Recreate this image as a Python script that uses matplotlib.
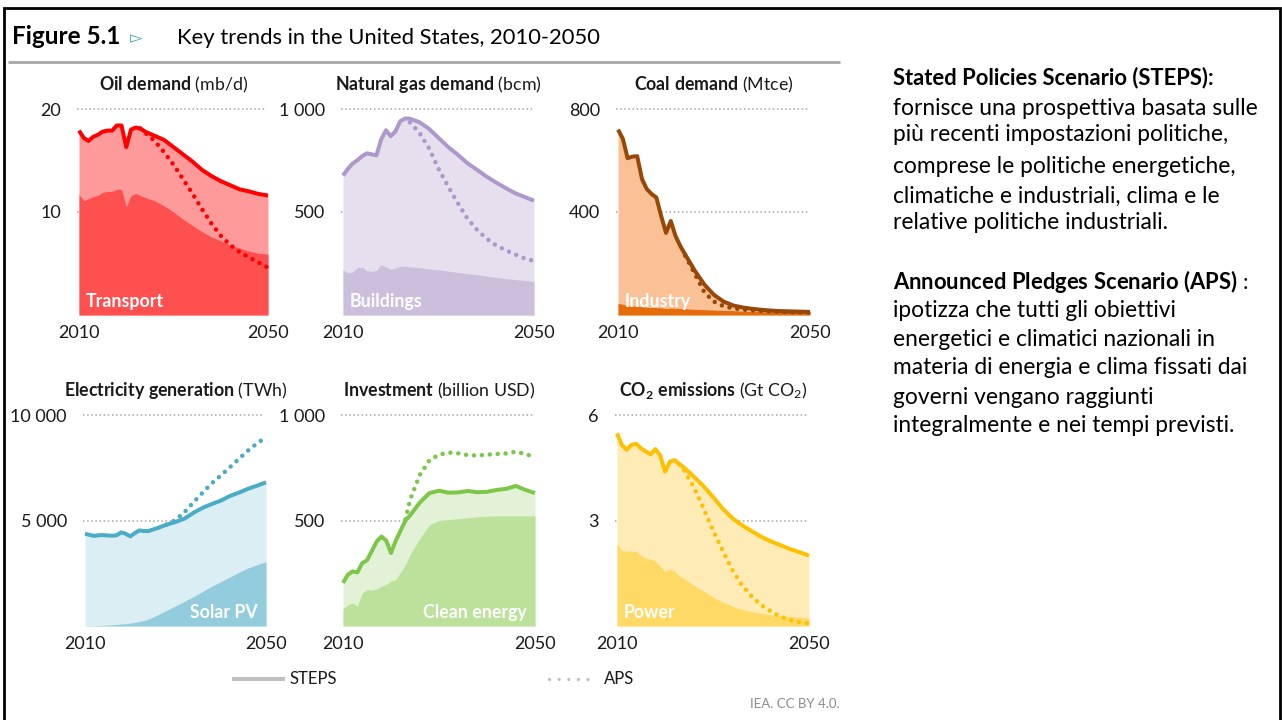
import numpy as np
import matplotlib
matplotlib.use("Agg")
import matplotlib.pyplot as plt

plt.rcParams['font.family'] = ['Lato', 'DejaVu Sans']
plt.rcParams['mathtext.fontset'] = 'custom'
plt.rcParams['mathtext.rm'] = 'Lato'
plt.rcParams['mathtext.bf'] = 'Lato:bold'
plt.rcParams['mathtext.it'] = 'Lato:italic'

W, H = 1282, 720

# ---------------------------------------------------------------- data
years = [2010, 2011, 2012, 2013, 2014, 2015, 2016, 2017, 2018, 2019, 2020,
         2021, 2022, 2023, 2024, 2026, 2028, 2030, 2032, 2034, 2036, 2038,
         2040, 2042, 2044, 2046, 2048, 2050]

# Oil demand (mb/d)
oil_steps = [17.9, 17.2, 16.9, 17.3, 17.5, 17.8, 17.9, 17.9, 18.4, 18.4, 16.3,
             18.0, 18.2, 18.1, 17.8, 17.4, 17.0, 16.3, 15.6, 14.9, 14.1, 13.5,
             13.0, 12.6, 12.2, 12.0, 11.75, 11.6]
oil_transport = [11.7, 11.1, 11.3, 11.5, 11.6, 11.9, 12.0, 12.0, 12.2, 12.2, 10.5,
                 11.6, 11.8, 11.6, 11.4, 11.1, 10.6, 10.0, 9.3, 8.7, 8.1, 7.6,
                 7.2, 6.8, 6.5, 6.2, 6.0, 5.9]
oil_aps_years = [2023, 2024, 2026, 2028, 2030, 2032, 2034, 2036, 2038, 2040,
                 2042, 2044, 2046, 2048, 2050]
oil_aps = [18.1, 17.7, 16.9, 15.8, 14.6, 13.2, 11.8, 10.3, 8.9, 7.7,
           6.8, 6.1, 5.6, 5.1, 4.6]

# Natural gas demand (bcm)
gas_steps = [677, 709, 735, 751, 771, 785, 780, 775, 853, 897, 868,
             892, 941, 954, 953, 936, 904, 860, 816, 779, 738, 706,
             673, 644, 617, 592, 573, 555]
gas_buildings = [220, 205, 208, 230, 232, 215, 212, 216, 245, 232, 222,
                 228, 237, 236, 234, 229, 224, 219, 213, 207, 201, 195,
                 189, 183, 177, 172, 168, 164]
gas_aps_years = [2024, 2026, 2028, 2030, 2032, 2034, 2036, 2038, 2040,
                 2042, 2044, 2046, 2048, 2050]
gas_aps = [935, 885, 810, 710, 625, 545, 470, 415, 372,
           339, 315, 295, 275, 262]

# Coal demand (Mtce)
coal_steps = [720, 685, 609, 615, 617, 528, 489, 470, 456, 384, 319,
              365, 306, 267, 235, 172, 118, 78, 52, 37, 29, 24,
              20, 17, 15, 14, 13, 12]
coal_industry = [45, 42, 36, 35, 34, 32, 30, 29, 29, 28, 25,
                 27, 26, 25, 24, 22, 21, 19, 18, 17, 15, 14,
                 13, 12, 11, 11, 10, 10]
coal_aps_years = [2024, 2026, 2028, 2030, 2032, 2034, 2036, 2038, 2040,
                  2042, 2044, 2046, 2048, 2050]
coal_aps = [230, 160, 88, 52, 34, 26, 21, 18, 15, 13, 12, 11, 10, 9]

# Electricity generation (TWh)
elec_steps = [4373, 4320, 4270, 4300, 4310, 4290, 4280, 4300, 4440, 4370, 4250,
              4400, 4530, 4500, 4500, 4640, 4800, 4930, 5090, 5370, 5600, 5780,
              5940, 6160, 6320, 6500, 6650, 6810]
elec_solar = [5, 10, 15, 20, 30, 40, 55, 75, 95, 110, 135,
              170, 210, 260, 330, 520, 740, 950, 1170, 1400, 1640, 1880,
              2100, 2320, 2540, 2750, 2900, 3050]
elec_aps_years = [2028, 2030, 2032, 2034, 2036, 2038, 2040, 2042, 2044,
                  2046, 2048, 2050]
elec_aps = [4800, 5020, 5400, 5870, 6320, 6760, 7130, 7520, 7920,
            8310, 8650, 8950]

# Investment (billion USD)
inv_steps = [204, 243, 259, 254, 298, 312, 355, 400, 424, 405, 346,
             405, 452, 500, 525, 585, 630, 641, 632, 633, 640, 634,
             636, 645, 650, 664, 645, 630]
inv_clean = [81, 101, 109, 93, 156, 172, 170, 176, 188, 198, 212,
             220, 255, 290, 340, 415, 480, 500, 505, 508, 513, 518,
             520, 522, 522, 522, 522, 522]
inv_aps_years = [2023, 2024, 2026, 2028, 2030, 2032, 2034, 2036, 2038,
                 2040, 2042, 2044, 2046, 2048, 2050]
inv_aps = [505, 600, 716, 785, 812, 822, 818, 810, 808,
           812, 815, 818, 826, 815, 800]

# CO2 emissions (Gt CO2)
co2_steps = [5.48, 5.15, 5.01, 5.15, 5.18, 5.05, 4.96, 4.88, 5.03, 4.85, 4.39,
             4.67, 4.72, 4.60, 4.50, 4.25, 3.98, 3.67, 3.34, 3.07, 2.87, 2.70,
             2.54, 2.41, 2.30, 2.19, 2.10, 2.00]
co2_power = [2.34, 2.15, 2.12, 2.13, 2.12, 2.00, 1.93, 1.90, 1.84, 1.70, 1.55,
             1.62, 1.56, 1.42, 1.34, 1.16, 0.99, 0.82, 0.68, 0.56, 0.47, 0.41,
             0.36, 0.32, 0.29, 0.27, 0.25, 0.23]
co2_aps_years = [2023, 2024, 2026, 2028, 2030, 2032, 2034, 2036, 2038,
                 2040, 2042, 2044, 2046, 2048, 2050]
co2_aps = [4.60, 4.42, 3.95, 3.35, 2.72, 2.15, 1.60, 1.17, 0.85,
           0.60, 0.42, 0.27, 0.17, 0.11, 0.07]

panels = [
    dict(title=r"$\mathbf{Oil\ demand}$ (mb/d)", ticks=[10, 20], ticklabels=["10", "20"],
         steps=oil_steps, sector=oil_transport, aps_x=oil_aps_years, aps=oil_aps,
         sector_name="Transport", colors=("#FF9A9A", "#FF5050", "#FF0000"),
         box=(79, 268, 109, 315), name_side="left"),
    dict(title=r"$\mathbf{Natural\ gas\ demand}$ (bcm)", ticks=[500, 1000], ticklabels=["500", "1 000"],
         steps=gas_steps, sector=gas_buildings, aps_x=gas_aps_years, aps=gas_aps,
         sector_name="Buildings", colors=("#E6E0EE", "#CBBFDC", "#AE98CB"),
         box=(343, 534, 109, 315), name_side="left"),
    dict(title=r"$\mathbf{Coal\ demand}$ (Mtce)", ticks=[400, 800], ticklabels=["400", "800"],
         steps=coal_steps, sector=coal_industry, aps_x=coal_aps_years, aps=coal_aps,
         sector_name="Industry", colors=("#F9C195", "#E46C0A", "#974806"),
         box=(618, 810, 109, 315), name_side="left"),
    dict(title=r"$\mathbf{Electricity\ generation}$ (TWh)", ticks=[5000, 10000], ticklabels=["5 000", "10 000"],
         steps=elec_steps, sector=elec_solar, aps_x=elec_aps_years, aps=elec_aps,
         sector_name="Solar PV", colors=("#DAEEF3", "#93CDDD", "#4BACC6"),
         box=(85, 266, 415, 626), name_side="right"),
    dict(title=r"$\mathbf{Investment}$ (billion USD)", ticks=[500, 1000], ticklabels=["500", "1 000"],
         steps=inv_steps, sector=inv_clean, aps_x=inv_aps_years, aps=inv_aps,
         sector_name="Clean energy", colors=("#E3F2D7", "#BBE19B", "#7DC748"),
         box=(343, 535, 415, 626), name_side="right"),
    dict(title=r"$\mathbf{CO_2\ emissions}$ (Gt CO$_2$)", ticks=[3, 6], ticklabels=["3", "6"],
         steps=co2_steps, sector=co2_power, aps_x=co2_aps_years, aps=co2_aps,
         sector_name="Power", colors=("#FFEBB6", "#FFD965", "#FFC000"),
         box=(617, 809, 415, 626), name_side="left"),
]

right_lines_1 = [
    ("Stated Policies Scenario (STEPS):", "bold"),
    ("fornisce una prospettiva basata sulle", "normal"),
    ("più recenti impostazioni politiche,", "normal"),
    ("comprese le politiche energetiche,", "normal"),
    ("climatiche e industriali, clima e le", "normal"),
    ("relative politiche industriali.", "normal"),
]
right_lines_2 = [
    (r"$\mathbf{Announced\ Pledges\ Scenario\ (APS)}$ :", "heading"),
    ("ipotizza che tutti gli obiettivi", "normal"),
    ("energetici e climatici nazionali in", "normal"),
    ("materia di energia e clima fissati dai", "normal"),
    ("governi vengano raggiunti", "normal"),
    ("integralmente e nei tempi previsti.", "normal"),
]

# ---------------------------------------------------------------- figure
fig = plt.figure(figsize=(W / 100, H / 100), dpi=100)
fig.patch.set_facecolor("white")


def pixel_axes(z):
    a = fig.add_axes([0, 0, 1, 1], zorder=z)
    a.set_xlim(0, W)
    a.set_ylim(H, 0)
    a.axis("off")
    a.patch.set_alpha(0)
    return a


# pixel-space layers: one under the panels, one above them
ov = pixel_axes(-1)
top = pixel_axes(10)

TXT = "#1A1A1A"
# outer frame
ov.plot([4, 4, 1280, 1280], [H + 2, 8, 8, H + 2], color="black", lw=2.0,
        solid_joinstyle="miter", clip_on=False)
# heading
ov.text(12, 44, "Figure 5.1", fontsize=17.5, fontweight="bold", color="black",
        va="baseline", ha="left")
ov.text(130, 43, "\u25BB", fontsize=12, color="#4BACC6", va="baseline", ha="left",
        family="DejaVu Sans")
ov.text(177, 44, "Key trends in the United States, 2010-2050", fontsize=15.8,
        color="black", va="baseline", ha="left")
ov.plot([8, 840], [62, 62], color="#A6A6A6", lw=2.0, solid_capstyle="butt")


def px_to_pt(px):
    return px * 72 / 100


for p in panels:
    l, r, t, b = p["box"]
    ax = fig.add_axes([l / W, 1 - b / H, (r - l) / W, (b - t) / H])
    ymax = p["ticks"][-1]
    ax.set_xlim(2010, 2050)
    ax.set_ylim(0, ymax)
    ax.patch.set_alpha(0)
    for s in ax.spines.values():
        s.set_visible(False)
    light, dark, line = p["colors"]

    ax.hlines(p["ticks"], 2009.6, 2049.6, colors="#A6A6A6",
              linestyles=(0, (1, 1.7)), lw=1.1, zorder=0, clip_on=False)
    ax.fill_between(years, 0, p["steps"], color=light, lw=0, zorder=1)
    ax.fill_between(years, 0, p["sector"], color=dark, lw=0, zorder=2)
    ax.plot(p["aps_x"], p["aps"], color=line, lw=px_to_pt(4.5),
            linestyle=(0, (0.01, 1.75)), dash_capstyle="round",
            zorder=3, clip_on=False)
    ax.plot(years, p["steps"], color=line, lw=px_to_pt(4.0),
            solid_capstyle="butt", solid_joinstyle="round", zorder=4, clip_on=False)

    ax.set_yticks(p["ticks"], p["ticklabels"])
    ax.set_xticks([2010, 2050], ["2010", "2050"])
    ax.tick_params(axis="y", length=0, pad=13, labelsize=13, labelcolor=TXT)
    ax.tick_params(axis="x", length=0, pad=7, labelsize=13, labelcolor=TXT)

    # panel heading
    ov.text((l + r) / 2, t - 19, p["title"], fontsize=12.8, color=TXT,
            ha="center", va="baseline")
    # sector label inside the dark area
    if p["name_side"] == "left":
        top.text(l + 7, b - 8, p["sector_name"], fontsize=12.8, fontweight="bold",
                 color="white", ha="left", va="baseline")
    else:
        top.text(r - 8, b - 8, p["sector_name"], fontsize=12.8, fontweight="bold",
                 color="white", ha="right", va="baseline")

# legend
ov.plot([232, 285], [679, 679], color="#BFBFBF", lw=px_to_pt(4), solid_capstyle="butt")
ov.text(289, 679, "STEPS", fontsize=12, color=TXT, va="center", ha="left")
ov.plot([549, 597], [679, 679], color="#BFBFBF", lw=px_to_pt(3.2),
        linestyle=(0, (0.01, 3.0)), dash_capstyle="round")
ov.text(604, 679, "APS", fontsize=12, color=TXT, va="center", ha="left")
ov.text(840, 704, "IEA. CC BY 4.0.", fontsize=9.5, color="#8C8C8C", va="center",
        ha="right")

# side text: headings at 15.8 pt, body at 16.4 pt
base1 = [84, 115, 141, 173, 203, 229]
base2 = [289, 317, 346, 374, 404, 432]
for lines, bases in ((right_lines_1, base1), (right_lines_2, base2)):
    for (txt, w), yb in zip(lines, bases):
        if w == "normal":
            ov.text(893, yb, txt, fontsize=16.4, color="black",
                    va="baseline", ha="left")
        else:
            ov.text(893, yb, txt, fontsize=15.8,
                    fontweight="bold" if w == "bold" else "normal",
                    color="black", va="baseline", ha="left")

fig.savefig("out.png", dpi=100, facecolor="white")
